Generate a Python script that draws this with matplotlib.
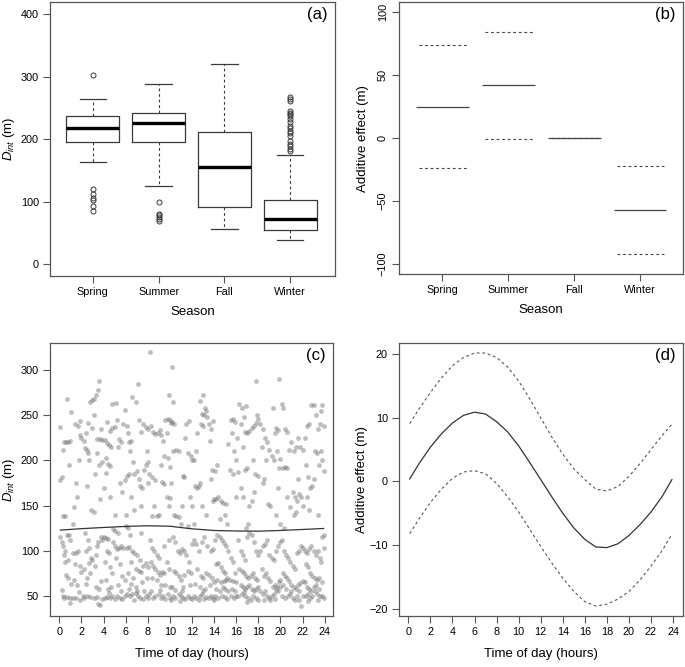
import matplotlib
matplotlib.use("Agg")
import matplotlib.pyplot as plt
import numpy as np

plt.rcParams['font.family'] = ['Liberation Sans', 'DejaVu Sans']
plt.rcParams['mathtext.fontset'] = 'custom'
plt.rcParams['mathtext.rm'] = 'Liberation Sans'
plt.rcParams['mathtext.it'] = 'Liberation Sans:italic'

# ---- panel (a): box plots of D_int by season
seasons = ['Spring', 'Summer', 'Fall', 'Winter']
box_q1 = [196, 195.5, 92.4, 54.5]
box_med = [218, 226, 155, 73]
box_q3 = [238, 242.5, 212, 103.6]
whisk_lo = [163, 125, 56.6, 39.5]
whisk_hi = [264, 288, 320, 175.7]
outliers = [
    [303, 121, 112, 106, 102.5, 93.5, 85.4],
    [99, 81, 78.5, 76, 72.6, 69.4],
    [],
    [181, 185, 190, 193, 198, 205, 210, 213, 218, 222, 228, 233, 237,
     240, 243, 246, 262, 265, 268],
]

# ---- panel (b): additive effect of season
eff_fit = [25, 42, 0, -57]
eff_upper = [73.6, 84, 0, -22]
eff_lower = [-23.5, -1, 0, -92]

# ---- panel (c): D_int against time of day
pts = [
    # 0-2 h
    (0.1, 237), (0.1, 178), (0.2, 182), (0.3, 212), (0.4, 220), (0.6, 221), (0.8, 220), (1.0, 222),
    (0.7, 268), (1.1, 254), (0.9, 195), (0.3, 138), (0.5, 138), (1.2, 130), (1.3, 149), (1.6, 160),
    (1.5, 175), (1.4, 240), (1.7, 238), (1.9, 228), (2.0, 225), (2.2, 222), (1.8, 200), (1.9, 244),
    (0.1, 115), (0.2, 110), (0.3, 105), (0.5, 100), (0.4, 95), (0.7, 118), (0.9, 117), (1.0, 112),
    (0.8, 90), (0.6, 73), (0.8, 70), (1.2, 98), (1.5, 97), (1.7, 100), (1.4, 85), (1.9, 83),
    (1.1, 63), (1.6, 62), (0.2, 57), (0.3, 50), (0.4, 48), (0.7, 49), (1.0, 48), (1.2, 48),
    (1.0, 42), (1.5, 48), (1.9, 45), (2.1, 50), (1.8, 54), (2.0, 76), (2.2, 80), (0.5, 88), (1.3, 68),
    # 2-4 h
    (2.3, 214), (2.5, 212), (2.6, 208), (2.7, 200), (2.8, 265), (3.0, 267), (3.1, 268), (3.3, 272),
    (3.5, 278), (3.6, 288), (2.4, 230), (2.6, 242), (3.1, 250), (3.0, 236), (3.4, 224), (3.7, 224),
    (3.9, 223), (3.2, 185), (3.6, 195), (3.9, 198), (2.9, 145), (3.1, 143), (3.7, 157), (2.5, 172),
    (3.4, 208), (3.8, 235),
    (2.3, 120), (2.6, 112), (2.9, 92), (3.0, 90), (3.2, 83), (2.4, 100), (2.7, 103), (3.4, 105),
    (3.5, 110), (3.8, 115), (3.9, 112), (2.5, 70), (2.8, 75), (3.3, 60), (3.6, 58), (2.2, 48),
    (2.5, 50), (2.8, 49), (3.1, 48), (3.4, 49), (3.5, 41), (3.7, 40), (3.9, 47), (3.8, 66),
    (2.7, 86), (3.3, 95), (2.4, 63),
    # 4-6 h
    (4.1, 223), (4.3, 219), (4.5, 217), (4.7, 215), (4.2, 203), (4.4, 196), (4.6, 194), (4.3, 243),
    (4.6, 233), (4.8, 236), (5.0, 237), (5.1, 264), (4.8, 263), (5.2, 245), (5.4, 224), (5.6, 220),
    (5.3, 215), (5.8, 240), (5.9, 256), (5.5, 175), (5.7, 165), (4.6, 160), (4.0, 170), (4.2, 186),
    (5.9, 178), (5.0, 140), (5.3, 120),
    (4.0, 115), (4.2, 114), (4.4, 113), (4.3, 100), (4.5, 97), (4.1, 88), (4.6, 82), (4.8, 75),
    (4.2, 68), (4.9, 110), (5.0, 105), (5.2, 102), (5.4, 103), (5.6, 105), (5.8, 103), (5.1, 92),
    (5.5, 85), (5.7, 72), (5.9, 68), (4.4, 58), (4.7, 60), (5.3, 62), (4.1, 48), (4.3, 49),
    (4.6, 48), (4.8, 50), (5.0, 47), (5.2, 50), (5.5, 48), (5.7, 47), (5.9, 50), (4.5, 53),
    (5.6, 55), (4.9, 124), (5.0, 122),
    # 6-8 h
    (6.1, 238), (6.2, 230), (6.3, 220), (6.4, 210), (6.5, 222), (6.1, 183), (6.3, 185), (6.6, 270),
    (6.9, 265), (7.1, 285), (6.8, 185), (7.0, 188), (7.2, 180), (6.7, 198), (7.3, 172), (7.5, 170),
    (7.6, 240), (7.8, 237), (8.0, 235), (7.4, 232), (7.9, 210), (8.0, 198), (7.8, 195), (7.7, 190),
    (6.5, 160), (6.8, 145), (7.4, 150), (8.0, 175), (7.2, 245),
    (6.0, 128), (6.2, 125), (6.4, 118), (6.1, 103), (6.3, 104), (6.6, 100), (6.8, 97), (7.0, 95),
    (7.3, 90), (6.5, 88), (6.9, 80), (7.2, 78), (7.4, 77), (7.6, 83), (7.8, 86), (8.0, 82),
    (6.2, 75), (6.7, 70), (6.5, 63), (6.9, 60), (7.5, 65), (7.9, 70), (6.1, 52), (6.4, 50),
    (6.6, 52), (6.9, 53), (7.1, 50), (7.3, 48), (7.6, 47), (7.8, 50), (8.0, 48), (6.8, 46),
    (7.0, 56), (7.7, 56), (6.3, 58), (7.4, 120), (6.0, 140),
    # 8-10 h
    (8.2, 320), (8.3, 238), (8.5, 232), (8.7, 229), (8.1, 185), (8.4, 182), (8.7, 178), (8.9, 230),
    (9.1, 234), (9.2, 228), (9.4, 222), (9.6, 245), (9.8, 246), (10.0, 245), (10.1, 242), (9.9, 272),
    (9.7, 230), (9.5, 205), (9.8, 203), (10.0, 193), (9.3, 176), (9.5, 174), (8.6, 150), (8.4, 138),
    (8.8, 138), (9.0, 140), (9.7, 160), (9.9, 150), (10.0, 158), (9.2, 195),
    (8.2, 112), (8.4, 103), (8.6, 100), (8.8, 95), (9.0, 92), (8.3, 88), (8.5, 83), (8.7, 80),
    (8.9, 76), (9.1, 73), (9.3, 77), (9.5, 75), (9.7, 88), (9.9, 80), (8.4, 70), (8.8, 68),
    (9.2, 62), (9.6, 62), (10.0, 60), (8.1, 52), (8.3, 55), (8.5, 48), (8.7, 50), (9.0, 52),
    (9.2, 48), (9.4, 50), (9.6, 47), (9.8, 52), (10.0, 48), (10.1, 45), (9.1, 57), (9.9, 112), (9.5, 105),
    # 10-12 h
    (10.2, 303), (10.3, 265), (10.2, 243), (10.4, 240), (10.3, 210), (10.6, 212), (10.8, 210), (10.1, 175),
    (10.4, 140), (10.6, 138), (10.8, 137), (11.0, 130), (11.2, 183), (11.3, 182), (11.5, 240), (11.7, 244),
    (11.4, 225), (11.6, 208), (11.9, 205), (12.0, 200), (11.8, 160), (12.0, 150), (11.1, 150), (11.6, 128),
    (10.3, 115), (10.5, 110), (10.7, 100), (10.9, 97), (11.1, 102), (11.3, 100), (11.5, 95), (11.7, 88),
    (10.4, 78), (10.6, 75), (10.8, 72), (11.0, 68), (11.3, 73), (11.6, 78), (11.9, 75), (12.0, 108),
    (10.2, 60), (10.5, 57), (11.2, 60), (11.8, 62), (10.3, 50), (10.5, 48), (10.8, 52), (11.0, 50),
    (11.2, 48), (11.4, 47), (11.6, 50), (11.8, 48), (12.0, 47), (11.1, 55), (10.9, 44),
    # 12-14 h
    (12.2, 200), (12.3, 172), (12.5, 170), (12.6, 172), (12.7, 175), (12.4, 210), (12.7, 266), (12.9, 252),
    (13.0, 272), (13.1, 250), (13.2, 258), (13.3, 255), (13.4, 248), (13.0, 238), (12.8, 240), (12.5, 230),
    (13.5, 240), (13.7, 235), (13.9, 244), (13.6, 222), (13.8, 190), (13.9, 155), (14.0, 157), (12.9, 150),
    (13.3, 140), (12.2, 130), (13.7, 180),
    (12.2, 112), (12.4, 108), (12.6, 100), (12.9, 110), (13.1, 115), (13.4, 105), (13.7, 100), (13.9, 102),
    (12.5, 80), (12.8, 72), (13.0, 70), (13.3, 75), (13.5, 73), (13.8, 70), (12.3, 63), (12.7, 60),
    (13.2, 58), (13.6, 62), (14.0, 65), (12.2, 50), (12.4, 48), (12.7, 50), (12.9, 52), (13.1, 47),
    (13.3, 49), (13.5, 48), (13.7, 50), (13.9, 48), (14.0, 45), (13.0, 55), (12.6, 45),
    # 14-16 h
    (14.2, 157), (14.4, 160), (14.1, 188), (14.3, 195), (14.6, 155), (14.8, 153), (15.0, 140), (15.1, 152),
    (15.3, 218), (15.5, 245), (15.7, 246), (15.9, 243), (15.6, 230), (15.8, 210), (16.0, 200), (15.4, 190),
    (15.7, 185), (16.0, 160), (15.2, 130), (14.5, 135),
    (14.1, 112), (14.3, 118), (14.5, 115), (14.7, 112), (14.9, 109), (15.1, 105), (15.3, 100), (15.5, 92),
    (15.7, 88), (15.9, 75), (14.2, 85), (14.4, 87), (14.6, 82), (14.8, 78), (15.0, 75), (15.2, 70),
    (14.3, 68), (14.6, 65), (14.9, 67), (15.1, 68), (15.4, 68), (15.7, 66), (16.0, 65), (14.2, 58),
    (14.5, 55), (14.8, 60), (15.0, 58), (15.3, 55), (15.6, 58), (15.9, 56), (14.1, 50), (14.4, 48),
    (14.7, 50), (15.0, 49), (15.2, 47), (15.5, 50), (15.8, 48), (16.0, 50),
    # 16-18 h
    (16.1, 225), (16.3, 263), (16.5, 258), (16.7, 248), (16.9, 260), (16.4, 240), (16.6, 215), (16.8, 232),
    (17.0, 230), (17.2, 233), (17.4, 236), (17.6, 238), (17.8, 242), (18.0, 246), (17.9, 250), (17.8, 288),
    (16.2, 187), (16.4, 170), (16.6, 160), (16.8, 190), (17.0, 192), (17.2, 150), (17.4, 155), (17.6, 165),
    (17.1, 130), (16.9, 125), (17.5, 200), (17.7, 185), (18.0, 183),
    (16.2, 112), (16.4, 100), (16.6, 95), (16.8, 90), (17.0, 115), (17.2, 120), (17.4, 118), (17.6, 110),
    (17.8, 100), (18.0, 95), (16.3, 80), (16.5, 78), (16.7, 75), (16.9, 72), (17.1, 70), (17.3, 72),
    (17.5, 75), (17.7, 70), (17.9, 68), (16.4, 62), (16.6, 60), (16.8, 58), (17.0, 60), (17.2, 62),
    (17.4, 58), (17.6, 55), (17.8, 58), (18.0, 60), (16.2, 50), (16.5, 52), (16.8, 50), (17.1, 48),
    (17.3, 45), (17.5, 50), (17.8, 48), (18.0, 46), (16.7, 54), (17.0, 43),
    # 18-20 h
    (18.2, 240), (18.4, 235), (18.6, 225), (18.3, 215), (18.8, 220), (19.0, 212), (19.2, 205), (19.4, 200),
    (19.6, 236), (19.8, 234), (19.9, 290), (19.3, 258), (19.5, 230), (19.7, 210), (20.0, 202), (19.8, 170),
    (19.9, 192), (18.5, 180), (18.9, 152), (19.1, 150), (18.4, 175), (19.6, 140), (20.0, 130), (18.7, 200),
    (18.2, 100), (18.4, 105), (18.6, 108), (18.8, 112), (19.0, 95), (19.2, 92), (19.4, 90), (19.6, 100),
    (19.8, 105), (20.0, 110), (18.3, 80), (18.5, 72), (18.7, 75), (18.9, 70), (19.1, 66), (19.3, 60),
    (19.5, 62), (19.7, 60), (19.9, 65), (20.0, 68), (18.2, 55), (18.4, 52), (18.6, 56), (18.8, 50),
    (19.0, 48), (19.2, 50), (19.4, 52), (19.6, 57), (19.8, 55), (20.0, 60), (18.5, 45), (19.1, 45), (19.5, 47),
    # 20-22 h
    (20.1, 263), (20.2, 258), (20.4, 235), (20.6, 232), (20.2, 192), (20.4, 193), (20.6, 192), (20.8, 212),
    (21.0, 220), (21.2, 210), (21.4, 215), (21.6, 225), (21.8, 215), (22.0, 212), (21.1, 165), (21.3, 160),
    (21.5, 155), (21.7, 163), (21.9, 160), (22.0, 150), (20.9, 148), (21.2, 140), (21.4, 143), (20.6, 160),
    (21.6, 180), (20.3, 125),
    (20.1, 112), (20.3, 100), (20.5, 95), (20.7, 92), (20.9, 88), (21.1, 83), (21.3, 80), (21.5, 98),
    (21.7, 100), (21.9, 105), (22.0, 103), (20.2, 75), (20.4, 72), (20.6, 70), (20.8, 66), (21.0, 62),
    (21.2, 60), (21.4, 58), (21.6, 62), (21.8, 64), (22.0, 66), (20.2, 62), (20.5, 58), (20.1, 50),
    (20.4, 48), (20.7, 50), (20.9, 52), (21.1, 48), (21.3, 46), (21.5, 50), (21.7, 45), (21.9, 39),
    (22.0, 50), (21.0, 55), (21.7, 55),
    # 22-24 h
    (22.2, 225), (22.4, 238), (22.6, 240), (22.8, 262), (23.0, 262), (23.2, 250), (23.4, 235), (23.6, 240),
    (23.8, 262), (23.9, 238), (23.7, 255), (22.3, 195), (22.5, 182), (22.7, 170), (22.9, 172), (23.1, 210),
    (23.3, 208), (23.5, 195), (23.7, 210), (23.9, 188), (22.4, 160), (22.6, 145), (23.0, 180), (23.4, 140),
    (23.8, 200),
    (22.2, 100), (22.4, 98), (22.6, 102), (22.8, 105), (23.0, 100), (23.2, 95), (23.4, 100), (23.6, 92),
    (23.8, 115), (23.9, 117), (23.9, 103), (22.3, 85), (22.5, 82), (22.7, 75), (22.9, 72), (23.1, 70),
    (23.3, 68), (23.5, 70), (23.7, 88), (22.2, 65), (22.4, 60), (22.6, 58), (22.8, 55), (23.0, 60),
    (23.2, 62), (23.5, 58), (23.8, 65), (22.3, 50), (22.5, 52), (22.7, 48), (22.9, 50), (23.1, 55),
    (23.3, 52), (23.6, 50), (23.8, 50), (23.9, 48), (22.5, 44), (23.4, 45),
]
hour_pts = [p[0] for p in pts]
dint_pts = [p[1] for p in pts]

trend_hours = [0.1, 2, 4, 6, 8, 10, 12, 14, 16, 18, 20, 22, 23.9]
trend_vals = [122.9, 124.5, 125.8, 127.0, 127.7, 127.2, 124.3, 122.5, 121.9, 121.7, 122.5, 123.6, 124.7]

# ---- panel (d): additive effect of time of day
tod_hours = [0.12, 1, 2, 3, 4, 5, 6, 7, 8, 9, 10, 11, 12, 13, 14, 15, 16, 17, 18, 19, 20, 21, 22, 23, 23.9]
tod_fit = [0.4, 2.9, 5.4, 7.5, 9.2, 10.4, 10.9, 10.6, 9.4, 7.8, 5.6, 3.0, 0.3, -2.4, -5.0,
           -7.3, -9.1, -10.3, -10.4, -9.8, -8.5, -6.8, -4.8, -2.4, 0.3]
tod_upper = [9.1, 11.5, 14.0, 16.3, 18.2, 19.5, 20.2, 20.2, 19.5, 18.0, 15.8, 13.0, 10.0, 7.0,
             4.3, 2.0, 0.3, -1.2, -1.5, -0.8, 0.8, 2.8, 5.0, 7.2, 9.0]
tod_lower = [-8.2, -5.8, -3.3, -1.2, 0.5, 1.5, 1.7, 1.2, -0.3, -2.4, -4.8, -7.5, -10.2, -12.8,
             -15.2, -17.3, -18.9, -19.6, -19.3, -18.5, -17.3, -15.5, -13.3, -10.9, -8.3]

TICK_FS = 7.8
LAB_FS = 9.5
EDGE = '#3a3a3a'
DASH = (0, (2.5, 2.5))

fig = plt.figure(figsize=(6.85, 6.67), dpi=100)
ax_a = fig.add_axes([0.073, 0.586, 0.416, 0.411])
ax_b = fig.add_axes([0.5825, 0.589, 0.4145, 0.408])
ax_c = fig.add_axes([0.073, 0.0765, 0.413, 0.4095])
ax_d = fig.add_axes([0.5825, 0.0765, 0.4145, 0.4095])


def style(ax, tag):
    for s in ax.spines.values():
        s.set_color('#555555')
        s.set_linewidth(0.9)
    ax.tick_params(direction='out', length=5, width=0.8, color='#555555',
                   labelsize=TICK_FS, pad=3)
    ax.text(0.975, 0.98, tag, transform=ax.transAxes, ha='right', va='top', fontsize=12)


# (a)
stats = []
for i in range(4):
    stats.append(dict(med=box_med[i], q1=box_q1[i], q3=box_q3[i],
                      whislo=whisk_lo[i], whishi=whisk_hi[i], fliers=outliers[i]))
ax_a.bxp(stats, positions=[1, 2, 3, 4], widths=0.8, showfliers=True,
         boxprops=dict(color=EDGE, lw=0.9),
         medianprops=dict(color='black', lw=2.4, solid_capstyle='butt'),
         whiskerprops=dict(color=EDGE, lw=0.8, linestyle=DASH),
         capprops=dict(color=EDGE, lw=0.9),
         flierprops=dict(marker='o', markersize=3.6, markerfacecolor='none',
                         markeredgecolor=EDGE, markeredgewidth=0.7))
ax_a.set_xlim(0.35, 4.68)
ax_a.set_ylim(-19, 420)
ax_a.set_yticks([0, 100, 200, 300, 400])
ax_a.set_xticks([1, 2, 3, 4])
ax_a.set_xticklabels(seasons)
ax_a.set_xlabel('Season', fontsize=LAB_FS)
ax_a.set_ylabel(r'$D_{int}$ (m)', fontsize=LAB_FS)
ax_a.xaxis.set_label_coords(0.5, -0.11)
ax_a.yaxis.set_label_coords(-0.115, 0.5)
style(ax_a, '(a)')

# (b)
xs = np.arange(1, 5)
ax_b.hlines(eff_fit, xs - 0.4, xs + 0.4, colors='#444444', lw=0.9)
ax_b.hlines(eff_upper, xs - 0.35, xs + 0.37, colors='#444444', lw=0.8, linestyles=[DASH])
ax_b.hlines(eff_lower, xs - 0.35, xs + 0.37, colors='#444444', lw=0.8, linestyles=[DASH])
ax_b.set_xlim(0.345, 4.65)
ax_b.set_ylim(-108, 108)
ax_b.set_yticks([-100, -50, 0, 50, 100])
ax_b.set_xticks([1, 2, 3, 4])
ax_b.set_xticklabels(seasons)
for lab in ax_b.get_yticklabels():
    lab.set_rotation(90)
    lab.set_va('center')
ax_b.set_xlabel('Season', fontsize=LAB_FS)
ax_b.set_ylabel('Additive effect (m)', fontsize=LAB_FS)
ax_b.xaxis.set_label_coords(0.5, -0.11)
ax_b.yaxis.set_label_coords(-0.106, 0.5)
style(ax_b, '(b)')

# (c)
ax_c.scatter(hour_pts, dint_pts, s=12, color='#707070', alpha=0.45, linewidths=0)
ax_c.plot(trend_hours, trend_vals, color='#333333', lw=0.9)
ax_c.set_xlim(-0.84, 24.75)
ax_c.set_ylim(27.8, 330.3)
ax_c.set_xticks(range(0, 25, 2))
ax_c.set_yticks([50, 100, 150, 200, 250, 300])
ax_c.set_xlabel('Time of day (hours)', fontsize=LAB_FS)
ax_c.set_ylabel(r'$D_{int}$ (m)', fontsize=LAB_FS)
ax_c.xaxis.set_label_coords(0.5, -0.117)
ax_c.yaxis.set_label_coords(-0.116, 0.5)
style(ax_c, '(c)')

# (d)
ax_d.plot(tod_hours, tod_fit, color='#333333', lw=0.9)
ax_d.plot(tod_hours, tod_upper, color='#555555', lw=0.8, linestyle=DASH)
ax_d.plot(tod_hours, tod_lower, color='#555555', lw=0.8, linestyle=DASH)
ax_d.set_xlim(-0.85, 24.9)
ax_d.set_ylim(-21.15, 21.8)
ax_d.set_xticks(range(0, 25, 2))
ax_d.set_yticks([-20, -10, 0, 10, 20])
ax_d.set_xlabel('Time of day (hours)', fontsize=LAB_FS)
ax_d.set_ylabel('Additive effect (m)', fontsize=LAB_FS)
ax_d.xaxis.set_label_coords(0.5, -0.117)
ax_d.yaxis.set_label_coords(-0.109, 0.5)
style(ax_d, '(d)')

fig.savefig('out.png', dpi=100)
